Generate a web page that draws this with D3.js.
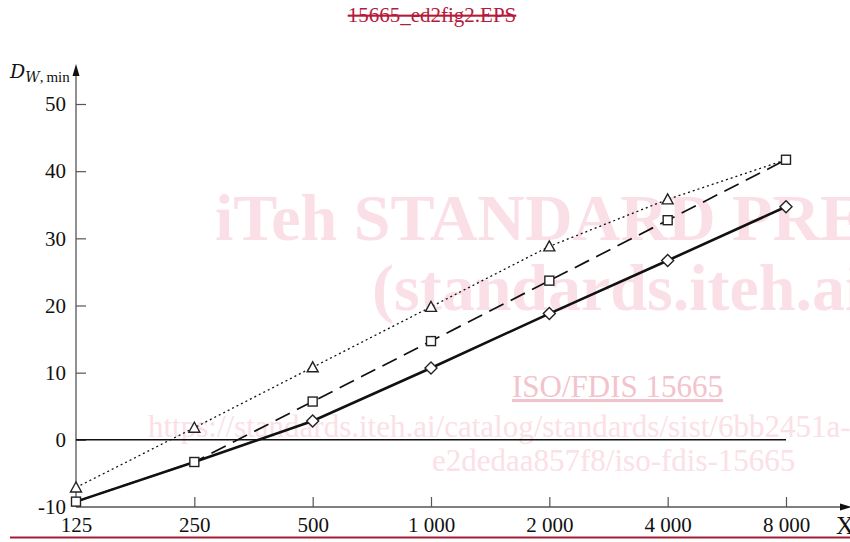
<!DOCTYPE html>
<html>
<head>
<meta charset="utf-8">
<script src="https://cdn.jsdelivr.net/npm/d3@7"></script>
<style>
  body { margin: 0; background: #fff; }
  svg { display: block; }
  .tick text { font-family: "Liberation Serif", serif; font-size: 21px; fill: #111; }
  .tick line { stroke: #555; stroke-width: 1.2; }
</style>
</head>
<body>
<svg id="chart"></svg>
<script>
// frequency bands (Hz), log2 spaced
const freqs = [125, 250, 500, 1000, 2000, 4000, 8000];
const xTickLabels = ['125', '250', '500', '1 000', '2 000', '4 000', '8 000'];
const yTicks = [-10, 0, 10, 20, 30, 40, 50];

// dotted, triangles (last point has no marker)
const seriesDotted = [-7.1, 1.8, 10.8, 19.8, 28.8, 35.8, 41.7];
// dashed, squares
const seriesDashed = [-9.2, -3.3, 5.7, 14.7, 23.7, 32.7, 41.7];
// solid, diamonds (first two points shared with dashed, shown as squares)
const seriesSolid = [-9.2, -3.3, 2.8, 10.7, 18.8, 26.7, 34.7];

const width = 850, height = 542;
const margin = { left: 76, right: 64, top: 104, bottom: 35 };

const svg = d3.select('#chart').attr('width', width).attr('height', height);

const x = d3.scaleLog().base(2)
    .domain([125, 8000])
    .range([margin.left, width - margin.right]);
const y = d3.scaleLinear()
    .domain([-10, 50])
    .range([height - margin.bottom, margin.top]);

// watermark text
const wm = svg.append('g').style('font-family', '"Liberation Serif", serif');
wm.append('text').attr('x', 215).attr('y', 240)
    .style('font-size', '66px').style('font-weight', 'bold').attr('fill', '#fae0e6')
    .text('iTeh STANDARD PREVIEW');
wm.append('text').attr('x', 372).attr('y', 310)
    .style('font-size', '66px').style('font-weight', 'bold').attr('fill', '#fae0e6')
    .text('(standards.iteh.ai)');
wm.append('text').attr('x', 512).attr('y', 397)
    .style('font-size', '31px').attr('fill', '#f3c3cd')
    .style('text-decoration', 'underline')
    .text('ISO/FDIS 15665');
wm.append('text').attr('x', 148).attr('y', 437)
    .style('font-size', '31px').attr('fill', '#fbe0e6')
    .text('https://standards.iteh.ai/catalog/standards/sist/6bb2451a-');
wm.append('text').attr('x', 432).attr('y', 471)
    .style('font-size', '31px').attr('fill', '#fbe0e6')
    .text('e2dedaa857f8/iso-fdis-15665');

// title
svg.append('text')
    .attr('x', 432).attr('y', 22)
    .attr('text-anchor', 'middle')
    .style('font-family', '"Liberation Serif", serif')
    .style('font-size', '21px')
    .style('text-decoration', 'line-through')
    .attr('fill', '#b51a3a')
    .text('15665_ed2fig2.EPS');

// axes
const xAxis = d3.axisBottom(x)
    .tickValues(freqs)
    .tickFormat((d, i) => xTickLabels[i])
    .tickSize(-10)
    .tickPadding(10);
const yAxis = d3.axisLeft(y)
    .tickValues(yTicks)
    .tickFormat(d => d)
    .tickSize(-10)
    .tickPadding(10);

const gx = svg.append('g')
    .attr('transform', `translate(0, ${y(-10)})`)
    .call(xAxis);
gx.select('.domain').remove();
const gy = svg.append('g')
    .attr('transform', `translate(${x(125)}, 0)`)
    .call(yAxis);
gy.select('.domain').remove();
gy.selectAll('.tick').filter(d => d === -10).select('line').remove();

// axis lines with arrow heads
const x0 = x(125), y0 = y(-10);
svg.append('line').attr('x1', x0).attr('y1', y0).attr('x2', x0).attr('y2', 72)
    .attr('stroke', '#555').attr('stroke-width', 1.3);
svg.append('path').attr('d', `M${x0},64 L${x0 - 3.5},76 L${x0 + 3.5},76 Z`).attr('fill', '#111');
svg.append('line').attr('x1', x0).attr('y1', y0).attr('x2', 842).attr('y2', y0)
    .attr('stroke', '#555').attr('stroke-width', 1.3);
svg.append('path').attr('d', `M852,${y0} L840,${y0 - 3.5} L840,${y0 + 3.5} Z`).attr('fill', '#111');

// zero line
svg.append('line')
    .attr('x1', x(125)).attr('x2', x(8000))
    .attr('y1', y(0)).attr('y2', y(0))
    .attr('stroke', '#111').attr('stroke-width', 1.5);

// axis titles
const yl = svg.append('text').attr('x', 10).attr('y', 78).attr('fill', '#111')
    .style('font-family', '"DejaVu Serif", serif');
yl.append('tspan').style('font-style', 'italic').style('font-size', '19px').text('D');
yl.append('tspan').attr('dy', 4).style('font-style', 'italic').style('font-size', '14px').text('W');
yl.append('tspan').style('font-family', '"Liberation Serif", serif').style('font-size', '15px').text(',\u2009min');

svg.append('text').attr('x', 836).attr('y', 534)
    .style('font-family', '"Liberation Serif", serif')
    .style('font-size', '25px').attr('fill', '#111').text('X');

// lines
const line = d3.line()
    .x((d, i) => x(freqs[i]))
    .y(d => y(d));

svg.append('path').datum(seriesDotted).attr('d', line)
    .attr('fill', 'none').attr('stroke', '#111')
    .attr('stroke-width', 1.3).attr('stroke-dasharray', '2,3');
svg.append('path').datum(seriesDashed).attr('d', line)
    .attr('fill', 'none').attr('stroke', '#111')
    .attr('stroke-width', 1.7).attr('stroke-dasharray', '16,8');
svg.append('path').datum(seriesSolid).attr('d', line)
    .attr('fill', 'none').attr('stroke', '#111')
    .attr('stroke-width', 2.6);

// markers
const markers = svg.append('g')
    .attr('fill', '#fff').attr('stroke', '#222').attr('stroke-width', 1.4);

markers.selectAll('.tri')
    .data(seriesDotted.slice(0, 6))
    .join('path')
    .attr('class', 'tri')
    .attr('d', (d, i) => {
        const cx = x(freqs[i]), cy = y(d);
        return `M${cx},${cy - 5.5} L${cx - 5.5},${cy + 4.5} L${cx + 5.5},${cy + 4.5} Z`;
    });

markers.selectAll('.sq')
    .data(seriesDashed)
    .join('rect')
    .attr('class', 'sq')
    .attr('x', (d, i) => x(freqs[i]) - 4.5)
    .attr('y', d => y(d) - 4.5)
    .attr('width', 9).attr('height', 9);

markers.selectAll('.dia')
    .data(seriesSolid.slice(2))
    .join('path')
    .attr('class', 'dia')
    .attr('d', (d, i) => {
        const cx = x(freqs[i + 2]), cy = y(d);
        return `M${cx},${cy - 6} L${cx + 6},${cy} L${cx},${cy + 6} L${cx - 6},${cy} Z`;
    });

// bottom rule
svg.append('line').attr('x1', 10).attr('x2', 850).attr('y1', 537.5).attr('y2', 537.5)
    .attr('stroke', '#a31c35').attr('stroke-width', 2);
</script>
</body>
</html>
